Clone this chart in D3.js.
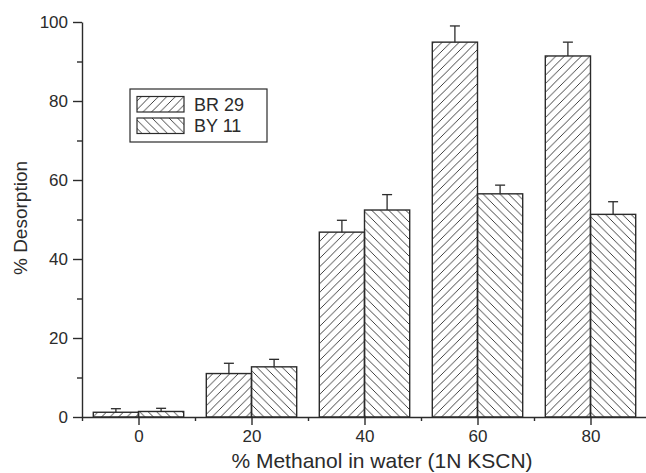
<!DOCTYPE html>
<html>
<head>
<meta charset="utf-8">
<script src="https://cdn.jsdelivr.net/npm/d3@7"></script>
<style>
  html, body { margin: 0; padding: 0; background: #fff; }
  svg { display: block; font-family: "Liberation Sans", Arial, sans-serif; }
</style>
</head>
<body>
<svg id="chart" width="646" height="473"></svg>
<script>
// Methanol content of the eluent (% in water, 1N KSCN)
const categories = [0, 20, 40, 60, 80];
// % desorption for each dye, with the upward error bar length
const seriesNames = ["BR 29", "BY 11"];
const br29 = [1.2, 11.0, 46.8, 94.9, 91.4];
const br29Err = [0.9, 2.6, 3.0, 4.1, 3.5];
const by11 = [1.4, 12.7, 52.4, 56.5, 51.3];
const by11Err = [0.8, 1.9, 3.9, 2.2, 3.2];
// axis ticks
const xTicks = [0, 20, 40, 60, 80];
const xMinorTicks = [-10, 10, 30, 50, 70];
const yTicks = [0, 20, 40, 60, 80, 100];
const yMinorTicks = [10, 30, 50, 70, 90];

const ink = "#2b2b2b";
const svg = d3.select("#chart");

const x = d3.scaleLinear().domain([-10, 90]).range([82, 647]);
const y = d3.scaleLinear().domain([0, 100]).range([417, 22]);
const barWidth = 8; // in x units

// hatch fills
const defs = svg.append("defs");
const p = 8.5;
function hatch(id, d) {
  defs.append("pattern")
    .attr("id", id)
    .attr("patternUnits", "userSpaceOnUse")
    .attr("width", p).attr("height", p)
    .append("path")
    .attr("d", d)
    .attr("stroke", ink)
    .attr("stroke-width", 0.9)
    .attr("fill", "none");
}
hatch("fwd", `M0,${p} L${p},0 M${-p/2},${p/2} L${p/2},${-p/2} M${p/2},${p*1.5} L${p*1.5},${p/2}`);
hatch("back", `M0,0 L${p},${p} M${-p/2},${p/2} L${p/2},${p*1.5} M${p/2},${-p/2} L${p*1.5},${p/2}`);

const series = [
  { name: seriesNames[0], values: br29, errs: br29Err, offset: -barWidth, fill: "url(#fwd)" },
  { name: seriesNames[1], values: by11, errs: by11Err, offset: 0, fill: "url(#back)" }
];

// bars
series.forEach(s => {
  const g = svg.append("g");
  g.selectAll("rect")
    .data(categories)
    .join("rect")
    .attr("x", (c) => x(c + s.offset))
    .attr("width", (c) => x(c + s.offset + barWidth) - x(c + s.offset))
    .attr("y", (c, i) => y(s.values[i]))
    .attr("height", (c, i) => y(0) - y(s.values[i]))
    .attr("fill", s.fill)
    .attr("stroke", ink)
    .attr("stroke-width", 1.4);
  // error bars (upper side only)
  const eb = g.selectAll("g.err")
    .data(categories)
    .join("g")
    .attr("class", "err");
  eb.append("line")
    .attr("x1", (c) => x(c + s.offset + barWidth / 2))
    .attr("x2", (c) => x(c + s.offset + barWidth / 2))
    .attr("y1", (c, i) => y(s.values[i]))
    .attr("y2", (c, i) => y(s.values[i] + s.errs[i]))
    .attr("stroke", ink).attr("stroke-width", 1.3);
  eb.append("line")
    .attr("x1", (c) => x(c + s.offset + barWidth / 2) - 5)
    .attr("x2", (c) => x(c + s.offset + barWidth / 2) + 5)
    .attr("y1", (c, i) => y(s.values[i] + s.errs[i]))
    .attr("y2", (c, i) => y(s.values[i] + s.errs[i]))
    .attr("stroke", ink).attr("stroke-width", 1.3);
});

// y axis
svg.append("g")
  .attr("transform", `translate(${x(-10)},0)`)
  .call(d3.axisLeft(y).tickValues(yTicks).tickSize(9).tickPadding(5).tickSizeOuter(0));
svg.append("g")
  .attr("transform", `translate(${x(-10)},0)`)
  .call(d3.axisLeft(y).tickValues(yMinorTicks).tickSize(5).tickFormat(""))
  .call(g => g.select(".domain").remove());

// x axis
svg.append("g")
  .attr("transform", `translate(0,${y(0)})`)
  .call(d3.axisBottom(x).tickValues(xTicks).tickSize(8).tickPadding(5).tickSizeOuter(0));
svg.append("g")
  .attr("transform", `translate(0,${y(0)})`)
  .call(d3.axisBottom(x).tickValues(xMinorTicks).tickSize(4).tickFormat(""))
  .call(g => g.select(".domain").remove());

svg.selectAll(".domain, .tick line").attr("stroke", ink).attr("stroke-width", 1.4);
svg.selectAll(".tick text")
  .attr("fill", ink)
  .style("font-size", "17px")
  .style("font-family", "'Liberation Sans', Arial, sans-serif");

// axis titles
svg.append("text")
  .attr("x", 382).attr("y", 468)
  .attr("text-anchor", "middle")
  .attr("fill", ink)
  .style("font-size", "21px")
  .text("% Methanol in water (1N KSCN)");
svg.append("text")
  .attr("transform", "translate(27,218) rotate(-90)")
  .attr("text-anchor", "middle")
  .attr("fill", ink)
  .style("font-size", "19px")
  .text("% Desorption");

// legend
const legend = svg.append("g");
legend.append("rect")
  .attr("x", 130).attr("y", 89).attr("width", 137).attr("height", 53)
  .attr("fill", "#fff").attr("stroke", ink).attr("stroke-width", 1.2);
series.forEach((s, i) => {
  const top = 96.5 + i * 21.5;
  legend.append("rect")
    .attr("x", 137).attr("y", top).attr("width", 47).attr("height", 15.5)
    .attr("fill", s.fill).attr("stroke", ink).attr("stroke-width", 1.2);
  legend.append("text")
    .attr("x", 194).attr("y", top + 14)
    .attr("fill", ink)
    .style("font-size", "18px")
    .text(s.name);
});
</script>
</body>
</html>
